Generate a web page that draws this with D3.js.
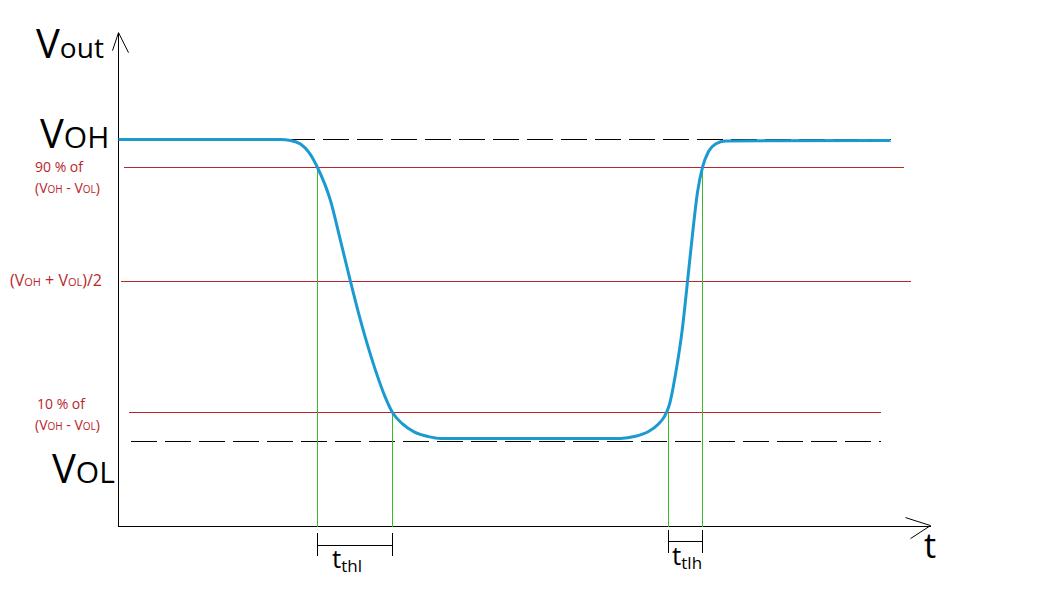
<!DOCTYPE html>
<html><head><meta charset="utf-8">
<script src="https://cdn.jsdelivr.net/npm/d3@7"></script>
<style>body{margin:0;background:#fff}text{font-family:"Open Sans",sans-serif}line,polyline{shape-rendering:crispEdges}</style>
</head><body><svg id="c" width="1060" height="613"></svg>
<script>
// time (arbitrary units) and normalized Vout (VOL=0, VOH=1)
const curveT = [0,162,172,182,191,199,212,222,232,242,257,266,274,284,296,310,322,502,517,530,540,546,551,557,564,569,574,579,584,590,597,607,772];
const curveV = [1.0,1.0,0.997,0.985,0.955,0.907,0.797,0.664,0.528,0.399,0.233,0.15,0.093,0.055,0.028,0.013,0.007,0.007,0.014,0.03,0.055,0.08,0.12,0.22,0.375,0.528,0.685,0.825,0.907,0.96,0.985,0.995,0.997];
const levels = [{name:"90",v:0.907,t0:5,t1:785},{name:"50",v:0.528,t0:2,t1:792},{name:"10",v:0.093,t0:10,t1:762}];
const refLevels = [{v:1.0,t0:0,t1:772},{v:-0.003,t0:12,t1:762}];
const crossT = [{t:199,v:0.907},{t:274,v:0.093},{t:550,v:0.093},{t:584,v:0.907}];
const svg = d3.select("#c");
const x = d3.scaleLinear().domain([0,812]).range([118.5,930.5]);
const y = d3.scaleLinear().domain([0,1]).range([440.5,139.5]);
const yAxisV = -0.286, yTopV = 1.355;
const red="#b8262a";
svg.append("line").attr("x1",x(0)).attr("x2",x(0)).attr("y1",y(yAxisV)).attr("y2",y(yTopV)).attr("stroke","#000");
svg.append("polyline").attr("points",`${x(-6)},${y(yTopV)+18} ${x(0)},${y(yTopV)} ${x(10)},${y(yTopV)+20}`).attr("fill","none").attr("stroke","#000").style("shape-rendering","auto");
svg.append("line").attr("x1",x(0)).attr("x2",x(812)).attr("y1",y(yAxisV)).attr("y2",y(yAxisV)).attr("stroke","#000");
svg.append("polyline").attr("points",`${x(787)},${y(yAxisV)-9} ${x(812)},${y(yAxisV)-1} ${x(792)},${y(yAxisV)+12}`).attr("fill","none").attr("stroke","#000").style("shape-rendering","auto");
svg.selectAll(".lv").data(levels).join("line").attr("x1",d=>x(d.t0)).attr("x2",d=>x(d.t1)).attr("y1",d=>y(d.v)).attr("y2",d=>y(d.v)).attr("stroke",red).attr("stroke-width",1);
svg.selectAll(".rf").data(refLevels).join("line").attr("x1",d=>x(d.t0)).attr("x2",d=>x(d.t1)).attr("y1",d=>y(d.v)).attr("y2",d=>y(d.v)).attr("stroke","#000").attr("stroke-dasharray","26,8");
svg.selectAll(".gv").data(crossT).join("line").attr("x1",d=>x(d.t)).attr("x2",d=>x(d.t)).attr("y1",d=>y(d.v)).attr("y2",y(yAxisV)).attr("stroke","#3cb82c").attr("stroke-width",1);
svg.append("path").datum(curveT.map((t,i)=>[t,curveV[i]])).attr("d",d3.line().x(d=>x(d[0])).y(d=>y(d[1])).curve(d3.curveMonotoneX)).attr("fill","none").attr("stroke","#1b9ad2").attr("stroke-width",3);
function bracket(t0,t1,ytop,ybot,ymid){
  const g=svg.append("g").attr("stroke","#000");
  g.append("line").attr("x1",x(t0)).attr("x2",x(t0)).attr("y1",ytop).attr("y2",ybot);
  g.append("line").attr("x1",x(t1)).attr("x2",x(t1)).attr("y1",ytop).attr("y2",ybot);
  g.append("line").attr("x1",x(t0)).attr("x2",x(t1)).attr("y1",ymid).attr("y2",ymid);
}
bracket(199,274,533,556,545.5);
bracket(550,584,530,553,541.5);
function lbl(px,py,main,sub,ms,ss,col,dy){
  const t=svg.append("text").attr("x",px).attr("y",py).attr("fill",col||"#000").attr("font-size",ms);
  t.append("tspan").text(main);
  t.append("tspan").attr("font-size",ss).attr("dy",dy||0).text(sub);
  return t;
}
lbl(332,568,"t","thl",26,17,"#000",4);
lbl(672,565,"t","tlh",26,17,"#000",4);
svg.append("text").attr("x",924).attr("y",558).attr("font-size",34).text("t");
lbl(36,58,"V","out",40,28,"#000",0);
lbl(40,148,"V","OH",40,30,"#000",0);
lbl(52,483,"V","OL",40,30,"#000",0);
svg.append("text").attr("x",35).attr("y",172).attr("font-size",14).attr("fill",red).text("90 % of");
svg.append("text").attr("x",37).attr("y",409).attr("font-size",14).attr("fill",red).text("10 % of");
function diff(px,py){
  const t=svg.append("text").attr("x",px).attr("y",py).attr("font-size",14).attr("fill",red);
  t.append("tspan").text("(V");t.append("tspan").attr("font-size",10).text("OH");
  t.append("tspan").text(" - V");t.append("tspan").attr("font-size",10).text("OL");
  t.append("tspan").text(")");
}
diff(35,193);diff(35,430);
const m=svg.append("text").attr("x",10).attr("y",286).attr("font-size",16).attr("fill",red);
m.append("tspan").text("(V");m.append("tspan").attr("font-size",11).text("OH");
m.append("tspan").text(" + V");m.append("tspan").attr("font-size",11).text("OL");
m.append("tspan").text(")/2");
</script></body></html>
